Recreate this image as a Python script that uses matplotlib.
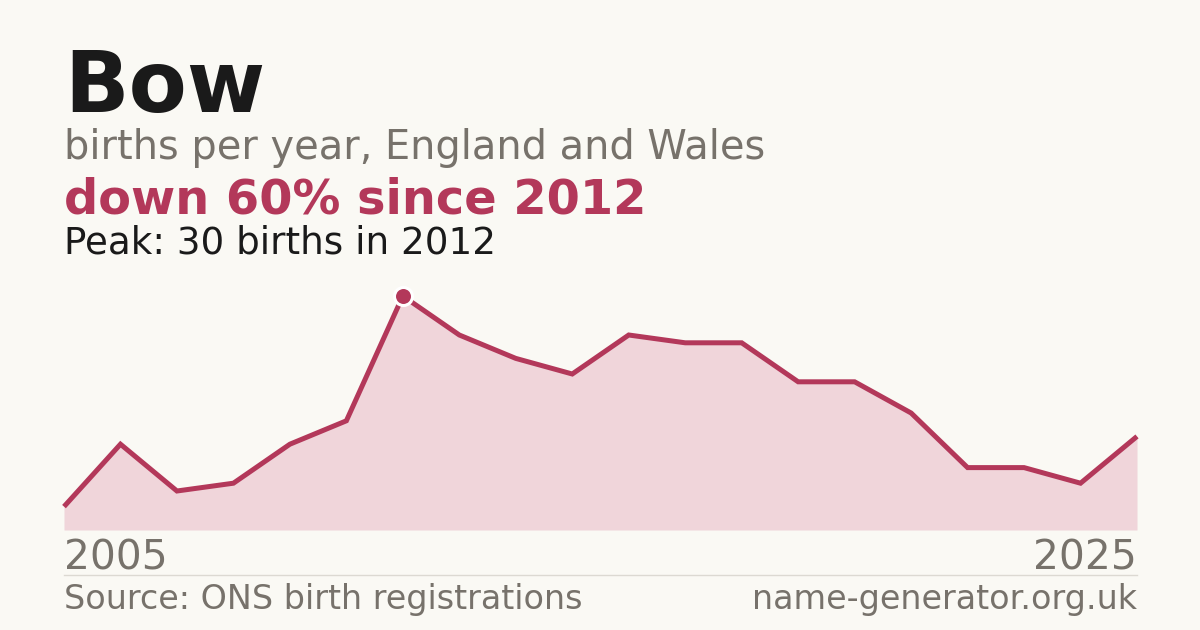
import numpy as np
import matplotlib.pyplot as plt

# births per year for the name "Bow"
years = list(range(2006, 2026))
births = [3, 11, 5, 6, 11, 14, 30, 25, 22, 20, 25, 24, 24, 19, 19, 15, 8, 8, 6, 12]
peak_year = 2012
peak_val = 30

RED = '#b3385a'
FILL = '#f0d5da'
BG = '#faf9f4'
GREY = '#77726b'
DARK = '#1a1a1a'

W, H = 1200, 630
fig = plt.figure(figsize=(12, 6.3), dpi=100, facecolor=BG)

def fy(px):
    return 1 - px / H

# plot area: x 64..1137, y 530 (0) .. 296 (30)
ax = fig.add_axes([64 / W, fy(530), 1073 / W, (530 - 296) / H])
ax.set_facecolor(BG)
ax.patch.set_alpha(0)
ax.fill_between(years, births, 0, color=FILL, lw=0, zorder=1)
ax.plot(years, births, color=RED, lw=3.6, solid_capstyle='butt',
        solid_joinstyle='miter', zorder=2, clip_on=False)
ax.plot([peak_year], [peak_val], 'o', ms=13, color=RED, mec='white', mew=2.2,
        zorder=3, clip_on=False)
ax.set_xlim(years[0], years[-1])
ax.set_ylim(0, peak_val)
ax.axis('off')

# headings
fig.text(64 / W, fy(112), 'Bow', fontsize=61, fontweight='bold', color=DARK, va='baseline')
fig.text(64 / W, fy(159), 'births per year, England and Wales', fontsize=28.7,
         color=GREY, va='baseline')
fig.text(64 / W, fy(214), 'down 60% since 2012', fontsize=34.5, fontweight='bold',
         color=RED, va='baseline')
fig.text(64 / W, fy(253), 'Peak: 30 births in 2012', fontsize=26.8, color=DARK,
         va='baseline')

# axis end labels
fig.text(64 / W, fy(570), '2005', fontsize=29.3, color=GREY, va='baseline')
fig.text(1137 / W, fy(570), '2025', fontsize=29.3, color=GREY, va='baseline', ha='right')

# footer
fig.add_artist(plt.Line2D([64 / W, 1137 / W], [fy(574.5), fy(574.5)], color='#dcd9d2', lw=1))
fig.text(64 / W, fy(609), 'Source: ONS birth registrations', fontsize=24, color=GREY,
         va='baseline')
fig.text(1137 / W, fy(609), 'name-generator.org.uk', fontsize=24, color=GREY,
         va='baseline', ha='right')

fig.savefig('out.png', dpi=100, facecolor=BG)
